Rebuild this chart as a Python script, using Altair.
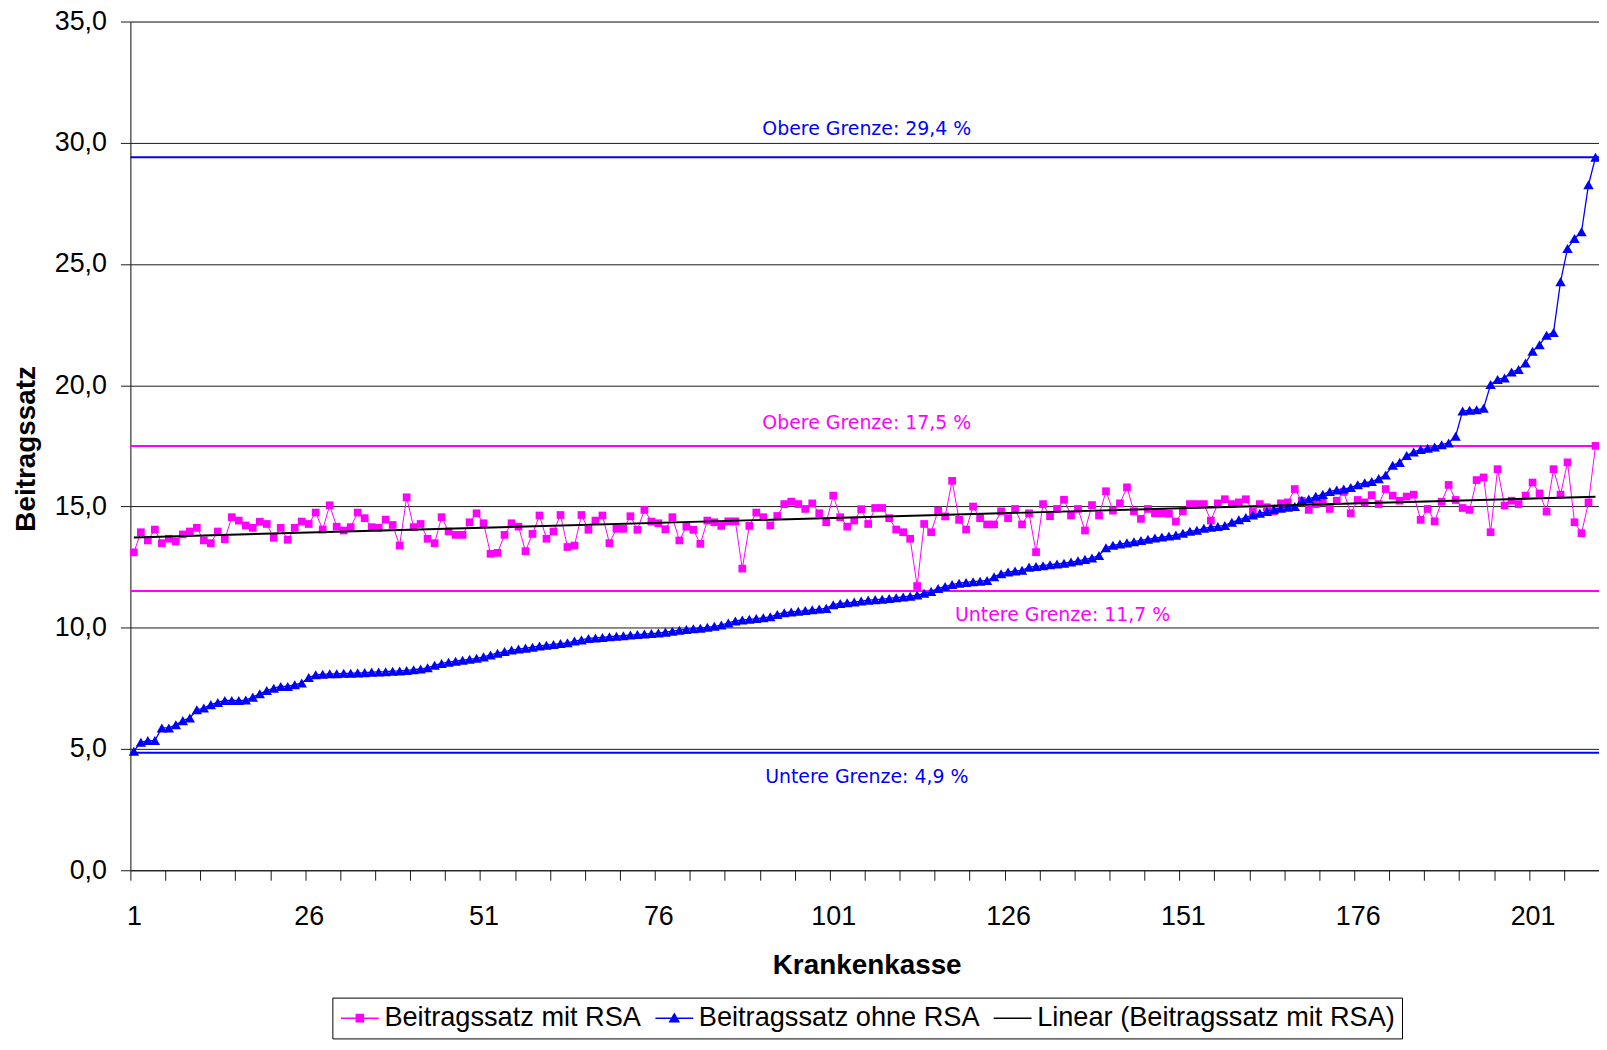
import altair as alt
import pandas as pd

FONT = "Liberation Sans"
NOTE_FONT = "DejaVu Sans"

# ---------------- data ----------------
kasse = list(range(1, 211))

mit_rsa = [
    13.11, 13.94, 13.60, 14.05, 13.49, 13.67, 13.56, 13.85, 13.97, 14.12,
    13.60, 13.49, 13.97, 13.65, 14.56, 14.42, 14.22, 14.12, 14.37, 14.28,
    13.71, 14.12, 13.63, 14.12, 14.38, 14.28, 14.75, 14.05, 15.05, 14.17,
    14.01, 14.15, 14.75, 14.52, 14.15, 14.12, 14.46, 14.24, 13.39, 15.38,
    14.15, 14.28, 13.67, 13.49, 14.56, 13.97, 13.83, 13.83, 14.35, 14.72,
    14.31, 13.05, 13.09, 13.83, 14.31, 14.17, 13.16, 13.87, 14.63, 13.67,
    13.97, 14.65, 13.33, 13.39, 14.65, 14.04, 14.42, 14.63, 13.49, 14.08,
    14.08, 14.60, 14.04, 14.86, 14.38, 14.31, 14.06, 14.56, 13.60, 14.17,
    14.04, 13.46, 14.42, 14.35, 14.20, 14.39, 14.39, 12.44, 14.20, 14.75,
    14.56, 14.22, 14.61, 15.10, 15.20, 15.10, 14.90, 15.13, 14.72, 14.35,
    15.45, 14.56, 14.17, 14.42, 14.89, 14.28, 14.94, 14.94, 14.52, 14.05,
    13.94, 13.67, 11.72, 14.28, 13.94, 14.83, 14.59, 16.06, 14.45, 14.05,
    15.00, 14.52, 14.26, 14.26, 14.80, 14.52, 14.90, 14.26, 14.72, 13.12,
    15.10, 14.60, 14.90, 15.28, 14.63, 14.90, 14.01, 15.06, 14.63, 15.63,
    14.83, 15.13, 15.79, 14.80, 14.49, 14.90, 14.72, 14.72, 14.70, 14.38,
    14.80, 15.10, 15.10, 15.10, 14.42, 15.13, 15.30, 15.10, 15.17, 15.30,
    14.80, 15.10, 14.97, 14.80, 15.13, 15.17, 15.72, 15.24, 14.86, 15.10,
    15.17, 14.90, 15.24, 15.60, 14.72, 15.27, 15.17, 15.47, 15.10, 15.72,
    15.45, 15.24, 15.41, 15.49, 14.45, 14.90, 14.39, 15.20, 15.89, 15.27,
    14.94, 14.86, 16.09, 16.20, 13.94, 16.54, 15.04, 15.24, 15.10, 15.45,
    15.99, 15.54, 14.79, 16.54, 15.49, 16.82, 14.35, 13.90, 15.17, 17.50,
]

ohne_rsa = [
    4.91, 5.28, 5.35, 5.35, 5.87, 5.87, 6.00, 6.17, 6.28, 6.62,
    6.69, 6.83, 6.92, 7.00, 7.00, 7.00, 7.02, 7.14, 7.28, 7.41,
    7.51, 7.58, 7.58, 7.65, 7.72, 7.95, 8.06, 8.08, 8.10, 8.10,
    8.12, 8.12, 8.14, 8.15, 8.17, 8.18, 8.19, 8.21, 8.22, 8.24,
    8.27, 8.30, 8.35, 8.45, 8.53, 8.58, 8.62, 8.66, 8.70, 8.74,
    8.80, 8.88, 8.95, 9.02, 9.08, 9.12, 9.16, 9.20, 9.25, 9.28,
    9.31, 9.35, 9.38, 9.45, 9.50, 9.56, 9.58, 9.60, 9.63, 9.65,
    9.67, 9.70, 9.72, 9.74, 9.76, 9.78, 9.82, 9.86, 9.90, 9.93,
    9.96, 9.98, 10.02, 10.06, 10.11, 10.20, 10.28, 10.32, 10.35, 10.38,
    10.41, 10.45, 10.55, 10.62, 10.65, 10.68, 10.71, 10.74, 10.77, 10.80,
    10.95, 11.00, 11.03, 11.06, 11.10, 11.14, 11.16, 11.18, 11.21, 11.24,
    11.27, 11.30, 11.35, 11.42, 11.50, 11.62, 11.70, 11.78, 11.84, 11.87,
    11.90, 11.92, 11.95, 12.10, 12.23, 12.30, 12.34, 12.37, 12.50, 12.53,
    12.56, 12.60, 12.63, 12.66, 12.71, 12.76, 12.82, 12.88, 12.98, 13.30,
    13.40, 13.45, 13.50, 13.55, 13.60, 13.65, 13.70, 13.74, 13.78, 13.82,
    13.90, 13.98, 14.02, 14.10, 14.15, 14.18, 14.22, 14.35, 14.45, 14.55,
    14.65, 14.72, 14.80, 14.88, 14.93, 14.97, 15.00, 15.26, 15.31, 15.42,
    15.50, 15.62, 15.68, 15.72, 15.78, 15.90, 15.98, 16.03, 16.15, 16.30,
    16.70, 16.82, 17.10, 17.25, 17.35, 17.40, 17.45, 17.55, 17.62, 17.90,
    18.94, 18.97, 18.99, 19.05, 20.03, 20.24, 20.30, 20.55, 20.65, 20.92,
    21.40, 21.67, 22.06, 22.18, 24.27, 25.64, 26.05, 26.33, 28.27, 29.40,
]

# limit lines and their captions
grenze_wert = [29.4, 17.5, 11.52, 4.85]
grenze_farbe = ["#0000FF", "#FF00FF", "#FF00FF", "#0000FF"]
beschriftung = ["Obere Grenze: 29,4 %", "Obere Grenze: 17,5 %",
                "Untere Grenze: 11,7 %", "Untere Grenze: 4,9 %"]
beschriftung_x = [105.8, 105.8, 133.8, 105.8]
beschriftung_y = [30.57, 18.44, 10.53, 3.85]
beschriftung_farbe = ["#0000FF", "#FF00FF", "#FF00FF", "#0000FF"]

serien = ["Beitragssatz mit RSA", "Beitragssatz ohne RSA",
          "Linear (Beitragssatz mit RSA)"]
serien_farbe = ["#FF00FF", "#0000FF", "#000000"]
# legend glyphs: a line with the series marker in its middle
serien_symbol = [
    "M-1,0H2.167M0.283,-0.3H0.883V0.3H0.283Z",
    "M-1,0H2.167M0.583,-0.36L0.958,0.3H0.208Z",
    "M-1,0H2.167",
]

y_ticks = [0, 5, 10, 15, 20, 25, 30, 35]
x_ticks = [0.5 + 5 * k for k in range(42)]

assert len(mit_rsa) == 210 and len(ohne_rsa) == 210

# ---------------- tables ----------------
df_mit = pd.DataFrame({"i": kasse, "value": mit_rsa})
df_ohne = pd.DataFrame({"i": kasse, "value": ohne_rsa})
df_grenze = pd.DataFrame({"value": grenze_wert, "farbe": grenze_farbe})
df_text = pd.DataFrame({"i": beschriftung_x, "value": beschriftung_y,
                        "text": beschriftung, "farbe": beschriftung_farbe})
df_leg = pd.DataFrame({"series": serien})

# ---------------- shared encodings ----------------
x_scale = alt.Scale(domain=[0.5, 210.5], nice=False, zero=False)
y_scale = alt.Scale(domain=[0, 35], nice=False, zero=True)

x_axis = alt.Axis(
    values=x_ticks,
    labelExpr="(datum.value - 0.5) % 25 == 0 ? toString(datum.value + 0.5) : ''",
    labelOffset=3.5, labelFlush=False, labelOverlap=False,
    grid=False, tickSize=10, tickColor="#1a1a1a", domainColor="#1a1a1a",
    tickWidth=1, domainWidth=1,
    labelFont=FONT, labelFontSize=27, labelColor="black", labelPadding=24,
    title="Krankenkasse", titleFont=FONT, titleFontSize=28,
    titleFontWeight="bold", titleColor="black",
    titleX=740, titleY=96, titleBaseline="middle", titleAlign="center",
)
y_axis = alt.Axis(
    values=y_ticks,
    labelExpr="replace(format(datum.value, '.1f'), '.', ',')",
    labelFlush=False, labelOverlap=False,
    grid=True, gridColor="#1a1a1a", gridWidth=1,
    tickSize=10, tickColor="#1a1a1a", domainColor="#1a1a1a",
    tickWidth=1, domainWidth=1,
    labelFont=FONT, labelFontSize=27, labelColor="black", labelPadding=14,
    title="Beitragssatz", titleFont=FONT, titleFontSize=28,
    titleFontWeight="bold", titleColor="black",
    titleX=-104, titleY=429, titleBaseline="middle", titleAlign="center",
)


def X():
    return alt.X("i:Q", scale=x_scale, axis=x_axis)


def Y():
    return alt.Y("value:Q", scale=y_scale, axis=y_axis)


# ---------------- layers ----------------
grenzen = alt.Chart(df_grenze).mark_rule(strokeWidth=2).encode(
    y=Y(), color=alt.Color("farbe:N", scale=None)
)

pink_line = alt.Chart(df_mit).mark_line(color="#FF00FF", strokeWidth=1).encode(x=X(), y=Y())
pink_pts = alt.Chart(df_mit).mark_point(
    shape="square", filled=True, size=60, color="#FF00FF", opacity=1
).encode(x=X(), y=Y())

blue_line = alt.Chart(df_ohne).mark_line(color="#0000FF", strokeWidth=1.3).encode(x=X(), y=Y())
blue_pts = alt.Chart(df_ohne).mark_point(
    shape="triangle-up", filled=True, size=110, color="#0000FF", opacity=1
).encode(x=X(), y=Y())

trend = alt.Chart(df_mit).transform_regression(
    "i", "value", method="linear", extent=[1, 210]
).mark_line(color="#000000", strokeWidth=2).encode(x=X(), y=Y())

texte = alt.Chart(df_text).mark_text(
    font=NOTE_FONT, fontSize=19, align="center", baseline="middle"
).encode(x=X(), y=Y(), text="text:N", color=alt.Color("farbe:N", scale=None))

legend = alt.Legend(
    title=None, orient="none", legendX=203, legendY=981, direction="horizontal",
    symbolSize=576, symbolStrokeWidth=1.5, symbolOpacity=1,
    labelFont=FONT, labelFontSize=27.3, labelColor="black", labelLimit=1000,
    labelOffset=18, columnPadding=10, padding=7,
    strokeColor="black", fillColor="white",
)
farb_scale = alt.Scale(domain=serien, range=serien_farbe)
form_scale = alt.Scale(domain=serien, range=serien_symbol)

legende = alt.Chart(df_leg).mark_point(
    filled=True, opacity=1, strokeWidth=1.5, clip=True
).encode(
    x=alt.value(-5000), y=alt.value(-5000),
    fill=alt.Fill("series:N", scale=farb_scale, legend=legend),
    stroke=alt.Stroke("series:N", scale=farb_scale, legend=legend),
    shape=alt.Shape("series:N", scale=form_scale, legend=legend),
)

chart = alt.layer(
    grenzen, pink_line, pink_pts, blue_line, blue_pts, trend, texte, legende
).properties(
    width=1476, height=853,
    autosize=alt.AutoSizeParams(type="none"),
    padding={"left": 123, "top": 11, "right": 0, "bottom": 168},
).configure_view(stroke=None).configure(background="white")

chart.save("out.html", embed_options={"renderer": "svg", "actions": False})
